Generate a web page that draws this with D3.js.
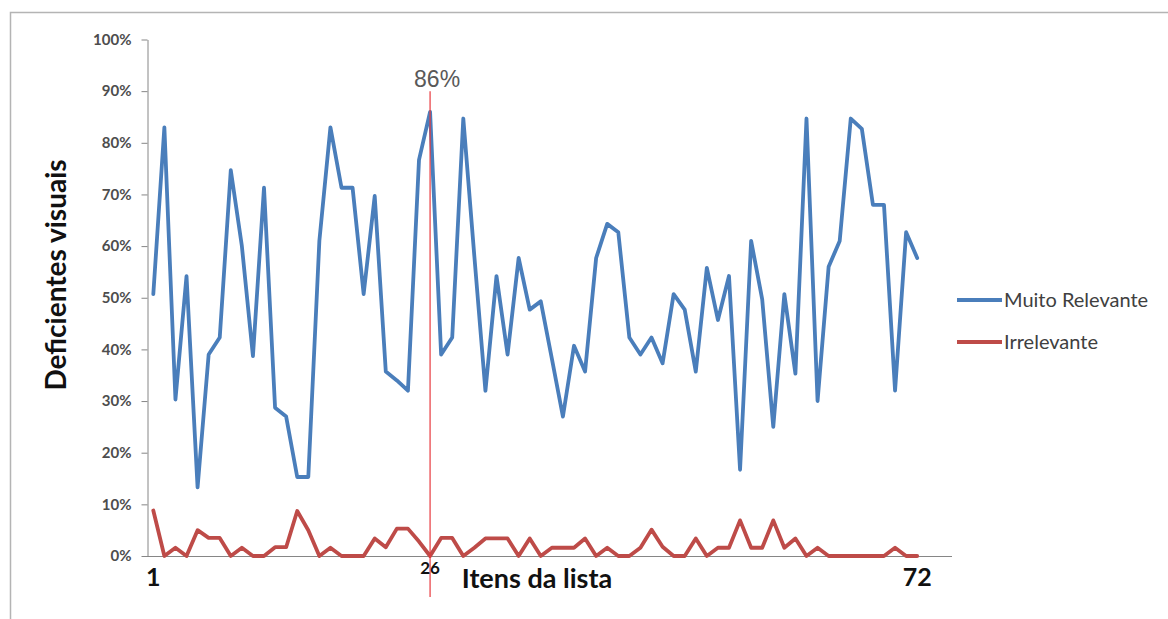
<!DOCTYPE html>
<html>
<head>
<meta charset="utf-8">
<script src="https://cdn.jsdelivr.net/npm/d3@7"></script>
<style>
  html, body { margin: 0; padding: 0; background: #ffffff; }
  svg { display: block; }
</style>
</head>
<body>
<svg id="chart" width="1168" height="619"></svg>
<script>
// Item number of each plotted point along the list (1..70 in plotting order)
const itemPositions = d3.range(1, 71);

// Share of visually impaired respondents (%) per list item
const muitoRelevante = [
  50.7, 83.0, 30.3, 54.2, 13.3, 39.0, 42.3, 74.7, 60.0, 38.7,
  71.3, 28.7, 27.0, 15.3, 15.3, 61.0, 83.0, 71.3, 71.3, 50.7,
  69.7, 35.7, 34.0, 32.0, 76.7, 86.0, 39.0, 42.3, 84.7, 58.0,
  32.0, 54.2, 39.0, 57.7, 47.7, 49.3, 38.2, 27.0, 40.7, 35.7,
  57.7, 64.3, 62.7, 42.3, 39.0, 42.3, 37.3, 50.7, 47.7, 35.7,
  55.8, 45.7, 54.2, 16.7, 61.0, 49.7, 25.0, 50.7, 35.3, 84.7,
  30.0, 56.0, 61.0, 84.7, 82.7, 68.0, 68.0, 32.0, 62.7, 57.7
];
const irrelevante = [
  8.8, 0.0, 1.6, 0.0, 5.0, 3.5, 3.5, 0.0, 1.6, 0.0,
  0.0, 1.7, 1.7, 8.7, 5.0, 0.0, 1.6, 0.0, 0.0, 0.0,
  3.4, 1.7, 5.3, 5.3, 2.8, 0.0, 3.5, 3.5, 0.0, 1.6,
  3.4, 3.4, 3.4, 0.0, 3.4, 0.0, 1.6, 1.6, 1.6, 3.4,
  0.0, 1.6, 0.0, 0.0, 1.6, 5.1, 1.8, 0.0, 0.0, 3.4,
  0.0, 1.6, 1.6, 6.9, 1.6, 1.6, 6.9, 1.6, 3.4, 0.0,
  1.6, 0.0, 0.0, 0.0, 0.0, 0.0, 0.0, 1.6, 0.0, 0.0
];

const seriesNames = ["Muito Relevante", "Irrelevante"];
const seriesColors = ["#4a7ebb", "#be4b48"];

const yTicks = [0, 10, 20, 30, 40, 50, 60, 70, 80, 90, 100];
// Labelled list items on the horizontal axis (plot position, printed text)
const xLabelItems = [1, 26, 70];
const xLabelTexts = ["1", "26", "72"];
const highlightItem = 26;
const highlightTop = 90;

const svg = d3.select("#chart");

// Outer frame (top and left edges)
svg.append("path")
  .attr("d", "M10.5,619 L10.5,12.5 L1168,12.5")
  .attr("fill", "none")
  .attr("stroke", "#b4b4b4")
  .attr("stroke-width", 1.5);

const plotLeft = 147, plotRight = 952;
const x = d3.scaleLinear().domain([1, 70]).range([153.3, 917.2]);
const y = d3.scaleLinear().domain([0, 100]).range([556, 39.5]);

// Y axis
const yAxis = d3.axisLeft(y)
  .tickValues(yTicks)
  .tickFormat(d => d + "%")
  .tickSize(6)
  .tickSizeOuter(0)
  .tickPadding(10);

const gy = svg.append("g")
  .attr("transform", `translate(${plotLeft + 0.5},0)`)
  .call(yAxis);
gy.select(".domain").attr("stroke", "#868686");
gy.selectAll(".tick line").attr("stroke", "#868686");
gy.selectAll(".tick text")
  .attr("fill", "#4d4d4d")
  .attr("font-family", "Lato, 'Open Sans', sans-serif")
  .attr("font-weight", "700")
  .attr("font-size", 15);

// X axis line
svg.append("line")
  .attr("x1", plotLeft).attr("x2", plotRight)
  .attr("y1", y(0) + 0.5).attr("y2", y(0) + 0.5)
  .attr("stroke", "#868686");

// Series lines
const line = d3.line()
  .x((d, i) => x(itemPositions[i]))
  .y(d => y(d));

[irrelevante, muitoRelevante].forEach((vals, k) => {
  const idx = k === 0 ? 1 : 0;
  svg.append("path")
    .datum(vals)
    .attr("d", line)
    .attr("fill", "none")
    .attr("stroke", seriesColors[idx])
    .attr("stroke-width", 3.8)
    .attr("stroke-linejoin", "round")
    .attr("stroke-linecap", "round");
});

// Highlighted item marker
const hi = itemPositions.indexOf(highlightItem);
svg.append("line")
  .attr("x1", x(highlightItem)).attr("x2", x(highlightItem))
  .attr("y1", y(highlightTop)).attr("y2", 597)
  .attr("stroke", "#e8383d")
  .attr("stroke-width", 1.2);

svg.append("text")
  .attr("x", x(highlightItem) + 7)
  .attr("y", 87)
  .attr("text-anchor", "middle")
  .attr("font-family", "'Liberation Sans', Arial, sans-serif")
  .attr("font-size", 23)
  .attr("fill", "#595959")
  .text(d3.format(".0%")(muitoRelevante[hi] / 100));

// X axis item labels
xLabelItems.forEach((item, i) => {
  const small = i === 1;
  svg.append("text")
    .attr("x", x(item))
    .attr("y", small ? 574 : 586)
    .attr("text-anchor", "middle")
    .attr("font-family", "Lato, sans-serif")
    .attr("font-weight", "700")
    .attr("font-size", small ? 17 : 25)
    .attr("fill", "#111111")
    .text(xLabelTexts[i]);
});

// Axis titles
svg.append("text")
  .attr("x", 537)
  .attr("y", 588)
  .attr("text-anchor", "middle")
  .attr("font-family", "Lato, sans-serif")
  .attr("font-weight", "700")
  .attr("font-size", 27)
  .attr("fill", "#111111")
  .text("Itens da lista");

svg.append("text")
  .attr("transform", "translate(66,275) rotate(-90)")
  .attr("text-anchor", "middle")
  .attr("font-family", "Lato, sans-serif")
  .attr("font-weight", "700")
  .attr("font-size", 28)
  .attr("fill", "#111111")
  .text("Deficientes visuais");

// Legend
const legend = svg.append("g").attr("transform", "translate(957,300)");
seriesNames.forEach((name, i) => {
  const g = legend.append("g").attr("transform", `translate(0,${i * 42})`);
  g.append("line")
    .attr("x1", 0).attr("x2", 45)
    .attr("stroke", seriesColors[i])
    .attr("stroke-width", 3.8);
  g.append("text")
    .attr("x", 47)
    .attr("dy", "0.35em")
    .attr("font-family", "Lato, sans-serif")
    .attr("font-size", 20)
    .attr("fill", "#404040")
    .text(name);
});
</script>
</body>
</html>
